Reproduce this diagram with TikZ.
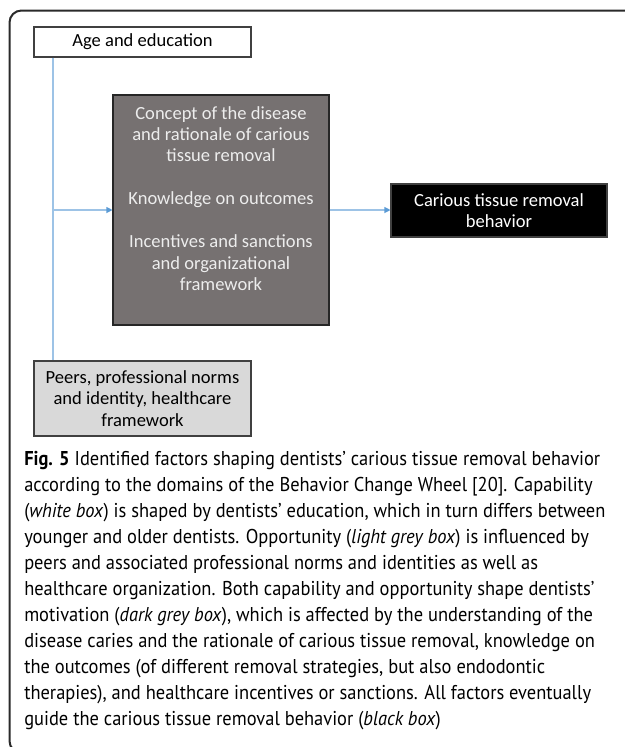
\documentclass[tikz,border=0pt]{standalone}
\usepackage{fontspec}
\setmainfont{Carlito}
\newfontfamily\capfont{PT Sans}
\usetikzlibrary{arrows.meta}
\definecolor{darkbox}{HTML}{767171}
\definecolor{lightbox}{HTML}{D9D9D9}
\definecolor{boxedge}{HTML}{404040}
\definecolor{linkline}{HTML}{9DC3E6}
\definecolor{linktip}{HTML}{5B9BD5}
\definecolor{frameline}{HTML}{2A2A2A}
\newlength\capone
\begin{document}
\settowidth\capone{\capfont\fontsize{15}{19.5}\selectfont\textbf{Fig. 5} Identified factors shaping dentists’ carious tissue removal behavior}%
\pgfmathsetmacro\capx{432/\capone}%
\begin{tikzpicture}[x=0.75pt,y=-0.75pt,
  boxbase/.style={draw=boxedge, line width=0.8pt, inner sep=0pt, align=center,
    font=\fontsize{13.9}{16.1}\selectfont},
  whitebox/.style={boxbase, fill=white, minimum width=162.75pt, minimum height=22.5pt},
  greybox/.style={boxbase, fill=lightbox, minimum width=162.75pt, minimum height=56.25pt},
  darkrect/.style={boxbase, draw=black!85, fill=darkbox, minimum width=162pt, minimum height=172.5pt},
  blackbox/.style={boxbase, fill=black, text=white, minimum width=162pt, minimum height=39.75pt},
  darktxt/.style={inner sep=0pt, align=center, text=white!93!black,
    font=\fontsize{13.9}{16.1}\selectfont},
  link/.style={draw=linkline, line width=0.8pt},
  linkarrow/.style={link, -{Triangle[length=4.5pt,width=4.5pt,color=linktip]}},
  frame/.style={draw=frameline, line width=1.5pt, rounded corners=9pt}
]
\useasboundingbox (0,0) rectangle (625,747);
\clip (0,0) rectangle (625,747);

% outer frame
\draw[frame] (660,10.5) -- (9.5,10.5) -- (9.5,753) -- (660,753);

% boxes
\node[whitebox] (age) at (142.5,42) {Age and education};
\node[darkrect] (dark) at (221,210) {};
\node[darktxt] (darktext) at (221,198.5) {Concept of the disease\\and rationale of carious\\tissue removal\\[16.1pt]Knowledge on outcomes\\[16.1pt]Incentives and sanctions\\and organizational\\framework};
\node[blackbox] (beh) at (499,210.5) {Carious tissue removal\\behavior};
\node[greybox] (peers) at (142.5,398.5) {Peers, professional norms\\and identity, healthcare\\framework};

% connectors
\coordinate (j) at (53,210);
\draw[link] (age.south -| j) -- (peers.north -| j);
\draw[linkarrow] (j) -- (dark.west |- j);
\draw[linkarrow] (dark.east |- j) -- (beh.west |- j);

% caption
\node[anchor=base west, inner sep=0pt] (cap) at (24,465) {\scalebox{\capx}[1]{\parbox[t]{600pt}{\capfont\fontsize{15}{19.5}\selectfont\raggedright
\textbf{Fig. 5} Identified factors shaping dentists’ carious tissue removal behavior\\
according to the domains of the Behavior Change Wheel [20]. Capability\\
(\textit{white box}) is shaped by dentists’ education, which in turn differs between\\
younger and older dentists. Opportunity (\textit{light grey box}) is influenced by\\
peers and associated professional norms and identities as well as\\
healthcare organization. Both capability and opportunity shape dentists’\\
motivation (\textit{dark grey box}), which is affected by the understanding of the\\
disease caries and the rationale of carious tissue removal, knowledge on\\
the outcomes (of different removal strategies, but also endodontic\\
therapies), and healthcare incentives or sanctions. All factors eventually\\
guide the carious tissue removal behavior (\textit{black box})}}};
\end{tikzpicture}
\end{document}
